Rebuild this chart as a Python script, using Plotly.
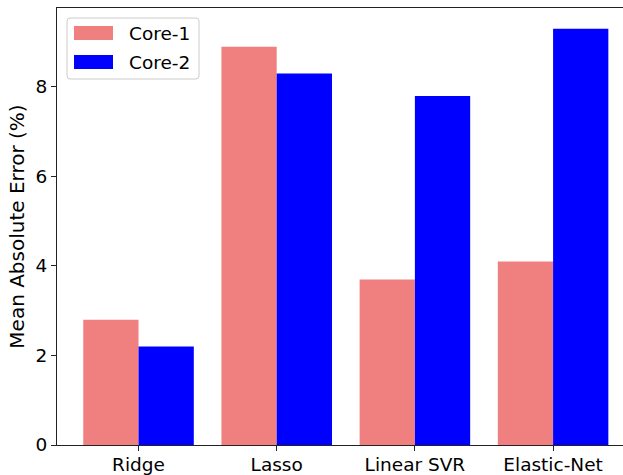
import plotly.graph_objects as go

categories = ["Ridge", "Lasso", "Linear SVR", "Elastic-Net"]
series_names = ["Core-1", "Core-2"]
core1 = [2.8, 8.9, 3.7, 4.1]
core2 = [2.2, 8.3, 7.8, 9.3]
series_colors = ["#F08080", "#0000FF"]
y_ticks = [0, 2, 4, 6, 8]

FONT = "DejaVu Sans"
W, H = 623, 475
ML, MR, MT, MB = 57, 0, 8, 30
PW, PH = W - ML - MR, H - MT - MB


def px(x):
    return (x - ML) / PW


def py(y):
    return (H - MB - y) / PH


fig = go.Figure()
for name, vals, col in zip(series_names, [core1, core2], series_colors):
    fig.add_trace(go.Bar(x=categories, y=vals, name=name, showlegend=False,
                         marker=dict(color=col, line=dict(width=0))))

# legend (drawn matplotlib-style: wide patches inside a rounded frame)
x0, x1, y0, y1, r = 67, 199, 18, 79, 3
path = (f"M {px(x0 + r)} {py(y0)} L {px(x1 - r)} {py(y0)} "
        f"Q {px(x1)} {py(y0)} {px(x1)} {py(y0 + r)} "
        f"L {px(x1)} {py(y1 - r)} Q {px(x1)} {py(y1)} {px(x1 - r)} {py(y1)} "
        f"L {px(x0 + r)} {py(y1)} Q {px(x0)} {py(y1)} {px(x0)} {py(y1 - r)} "
        f"L {px(x0)} {py(y0 + r)} Q {px(x0)} {py(y0)} {px(x0 + r)} {py(y0)} Z")
shapes = [dict(type="path", xref="paper", yref="paper", path=path,
               fillcolor="rgba(255,255,255,0.8)",
               line=dict(color="#CCCCCC", width=1), layer="above")]
annotations = []
row_centers = [33, 62]
for name, col, cy in zip(series_names, series_colors, row_centers):
    shapes.append(dict(type="rect", xref="paper", yref="paper",
                       x0=px(74), x1=px(113), y0=py(cy - 7), y1=py(cy + 7),
                       fillcolor=col, line=dict(width=0), layer="above"))
    annotations.append(dict(xref="paper", yref="paper", x=px(127), y=py(cy),
                            xanchor="left", yanchor="middle", text=name,
                            showarrow=False,
                            font=dict(family=FONT, size=18.5, color="black")))

fig.update_layout(
    width=W, height=H,
    margin=dict(l=ML, r=MR, t=MT, b=MB, pad=0, autoexpand=False),
    paper_bgcolor="white", plot_bgcolor="white",
    barmode="group", bargap=0.2, bargroupgap=0,
    font=dict(family=FONT, size=18, color="black"),
    showlegend=False,
    shapes=shapes, annotations=annotations,
)
fig.update_xaxes(
    type="category", range=[-0.59, 3.506], automargin=False,
    showline=True, linecolor="#222222", linewidth=1.2, mirror=True,
    ticks="outside", ticklen=5, tickcolor="#222222", tickwidth=1.2,
    ticklabelstandoff=-2,
    showgrid=False, zeroline=False,
    tickfont=dict(family=FONT, size=18.5, color="black"),
)
fig.update_yaxes(
    range=[0, 9.765], tickvals=y_ticks, automargin=False,
    showline=True, linecolor="#222222", linewidth=1.2,
    ticks="outside", ticklen=5, tickcolor="#222222", tickwidth=1.2,
    showgrid=False, zeroline=False,
    tickfont=dict(family=FONT, size=18.5, color="black"),
    title=dict(text="Mean Absolute Error (%)", standoff=5,
               font=dict(family=FONT, size=20, color="black")),
)

fig.write_html("out.html",
               config={"displayModeBar": False},
               post_script="document.body.style.margin='0';"
                           "document.body.style.overflow='hidden';")
